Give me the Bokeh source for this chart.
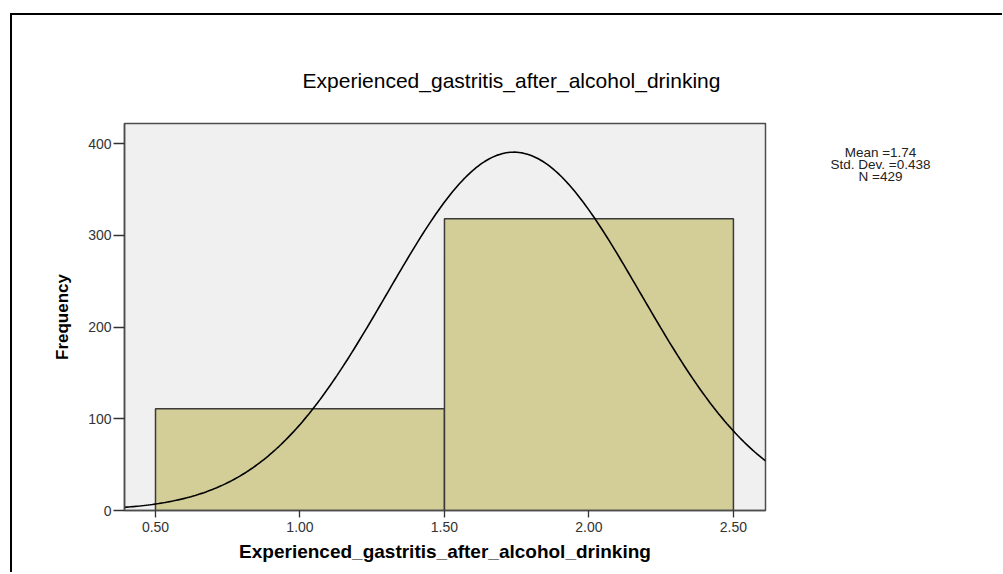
import numpy as np
from bokeh.plotting import figure
from bokeh.models import FixedTicker, Label, Range1d
from bokeh.layouts import column, row
from bokeh.embed import file_html
from bokeh.resources import INLINE

# ---- data ----
bin_left = [0.5, 1.5]
bin_right = [1.5, 2.5]
counts = [111, 318]
x_ticks = [0.5, 1.0, 1.5, 2.0, 2.5]
x_tick_labels = ["0.50", "1.00", "1.50", "2.00", "2.50"]
y_ticks = [0, 100, 200, 300, 400]
stat_mean = 1.74
stat_sd = 0.438
stat_n = 429
title_text = "Experienced_gastritis_after_alcohol_drinking"
x_label = "Experienced_gastritis_after_alcohol_drinking"
y_label = "Frequency"
stats_lines = ["Mean =1.74", "Std. Dev. =0.438", "N =429"]

FONT = "Liberation Sans"
x0, x1 = 0.3927, 2.611
y0, y1 = 0.0, 422.0

TOTAL_W = 990
TOP_H = 104
MAIN_W_LEFT, FRAME_W, MAIN_W_RIGHT = 112, 641, 10
FRAME_H, MAIN_TOP, MAIN_BOTTOM = 387, 4, 62
MAIN_H = MAIN_TOP + FRAME_H + MAIN_BOTTOM
SIDE_W = TOTAL_W - (MAIN_W_LEFT + FRAME_W + MAIN_W_RIGHT)


def blank(w, h):
    f = figure(frame_width=w, frame_height=h, min_border=0,
               x_range=Range1d(0, w), y_range=Range1d(h, 0),
               output_backend="svg", toolbar_location=None)
    f.axis.visible = False
    f.grid.visible = False
    f.outline_line_color = None
    f.background_fill_color = "white"
    f.border_fill_color = "white"
    return f


# ---- title strip ----
top = blank(TOTAL_W, TOP_H)
top.add_layout(Label(x=499, y=65, text=title_text, text_align="center",
                     text_baseline="middle", text_font=FONT,
                     text_font_size="21px", text_color="black"))

# ---- main histogram ----
p = figure(
    frame_width=FRAME_W, frame_height=FRAME_H,
    min_border_left=MAIN_W_LEFT, min_border_right=MAIN_W_RIGHT,
    min_border_top=MAIN_TOP, min_border_bottom=MAIN_BOTTOM,
    x_range=Range1d(x0, x1), y_range=Range1d(y0, y1),
    output_backend="svg", toolbar_location=None,
)
p.background_fill_color = "#F0F0F0"
p.border_fill_color = "white"
p.outline_line_color = "#4d4d4d"
p.outline_line_width = 1.5
p.xgrid.visible = False
p.ygrid.visible = False

p.quad(left=bin_left, right=bin_right, bottom=0, top=counts,
       fill_color="#D3CE97", line_color="#3a3a3a", line_width=1.5)

# fitted normal curve from the displayed statistics
bw = bin_right[0] - bin_left[0]
xs = np.linspace(x0, x1, 300)
ys = stat_n * bw * np.exp(-0.5 * ((xs - stat_mean) / stat_sd) ** 2) / (stat_sd * np.sqrt(2 * np.pi))
p.line(xs, ys, line_color="black", line_width=1.6)

for ax in (p.xaxis[0], p.yaxis[0]):
    ax.axis_line_color = "#4d4d4d"
    ax.axis_line_width = 1.5
    ax.major_tick_line_color = "#333333"
    ax.major_tick_line_width = 1.3
    ax.minor_tick_line_color = None
    ax.major_tick_in = 0
    ax.major_label_text_font = FONT
    ax.major_label_text_font_size = "14px"
    ax.major_label_text_color = "#333333"
    ax.axis_label_text_font = FONT
    ax.axis_label_text_font_style = "bold"
    ax.axis_label_text_color = "black"

p.xaxis.ticker = FixedTicker(ticks=x_ticks)
p.xaxis.major_label_overrides = {t: l for t, l in zip(x_ticks, x_tick_labels)}
p.xaxis.major_tick_out = 7
p.xaxis.major_label_standoff = 4
p.xaxis.axis_label = x_label
p.xaxis.axis_label_text_font_size = "19px"
p.xaxis.axis_label_standoff = 6

p.yaxis.ticker = FixedTicker(ticks=y_ticks)
p.yaxis.major_tick_out = 11
p.yaxis.major_label_standoff = 2
p.yaxis.axis_label = y_label
p.yaxis.axis_label_text_font_size = "17px"
p.yaxis.axis_label_standoff = 13

# ---- statistics panel on the right ----
side = blank(SIDE_W, MAIN_H)
for i, line in enumerate(stats_lines):
    side.add_layout(Label(x=105, y=29 + i * 12, text=line, text_align="center",
                          text_baseline="middle", text_font=FONT,
                          text_font_size="13.5px", text_color="#222222"))

layout = column(top, row(p, side, spacing=0), spacing=0)
layout.styles = {
    "border-left": "2px solid black",
    "border-top": "2px solid black",
    "margin-left": "10px",
    "margin-top": "13px",
}

open("out.html", "w").write(file_html(layout, INLINE))
